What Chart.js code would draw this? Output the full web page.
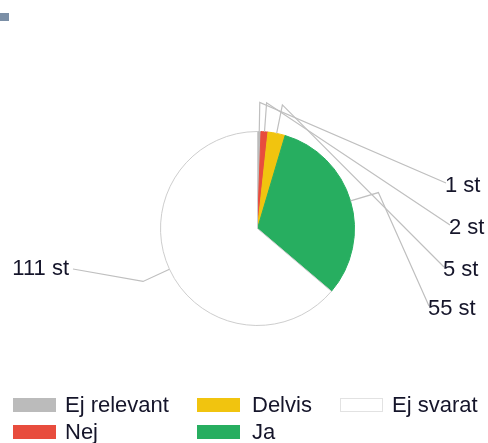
<!DOCTYPE html>
<html>
<head>
<meta charset="utf-8">
<script src="https://cdn.jsdelivr.net/npm/chart.js@4/dist/chart.umd.min.js"></script>
<style>
  body { margin: 0; background: #fff; }
  #wrap { position: relative; width: 488px; height: 443px; overflow: hidden; font-family: "Liberation Sans", Arial, sans-serif; }
  #mark { position: absolute; left: 0; top: 13px; width: 9px; height: 8px; background: #7b8fa6; }
  canvas { position: absolute; left: 0; top: 0; }
  .item { position: absolute; height: 16px; font-size: 22px; color: #15152a; white-space: nowrap; }
  .box { position: absolute; left: 0; top: 0; width: 43px; height: 14px; box-sizing: border-box; }
  .txt { position: absolute; top: -5px; line-height: 24px; }
</style>
</head>
<body>
<div id="wrap">
  <div id="mark"></div>
  <canvas id="pie" width="488" height="443"></canvas>
  <div id="legend"></div>
</div>
<script>
"use strict";

// data from the picture
const labels = ['Ej relevant', 'Nej', 'Delvis', 'Ja', 'Ej svarat'];
const counts = [1, 2, 5, 55, 111];
const colors = ['#bbbbbb', '#e84c3d', '#f1c40f', '#27ae60', '#ffffff'];
const borders = ['#bbbbbb', '#e84c3d', '#f1c40f', '#27ae60', '#cdcdcd'];

// where the value labels sit (left edge, or right edge for the left one)
const labelSpots = [
  { x: 445, y: 186, side: 'right' },
  { x: 449, y: 228, side: 'right' },
  { x: 443, y: 270, side: 'right' },
  { x: 428, y: 309, side: 'right' },
  { x: 69, y: 269, side: 'left' }
];

// leader lines + "n st" labels
const leaderPlugin = {
  id: 'leaders',
  afterDatasetsDraw(chart) {
    const ctx = chart.ctx;
    const arcs = chart.getDatasetMeta(0).data;
    ctx.save();
    ctx.strokeStyle = '#bfbfbf';
    ctx.lineWidth = 1.2;
    ctx.font = '22px "Liberation Sans", Arial, sans-serif';
    ctx.fillStyle = '#15152a';
    ctx.textBaseline = 'middle';
    arcs.forEach((arc, i) => {
      const p = arc.getProps(['x', 'y', 'startAngle', 'endAngle', 'outerRadius'], true);
      const mid = (p.startAngle + p.endAngle) / 2;
      const x0 = p.x + Math.cos(mid) * p.outerRadius;
      const y0 = p.y + Math.sin(mid) * p.outerRadius;
      const x1 = p.x + Math.cos(mid) * p.outerRadius * 1.3;
      const y1 = p.y + Math.sin(mid) * p.outerRadius * 1.3;
      const spot = labelSpots[i];
      let x2, y2;
      if (spot.side === 'right') {
        x2 = spot.x + 1; y2 = spot.y - 3;
      } else {
        x2 = spot.x + 4; y2 = spot.y;
      }
      ctx.beginPath();
      ctx.moveTo(x0, y0);
      ctx.lineTo(x1, y1);
      ctx.lineTo(x2, y2);
      ctx.stroke();
      ctx.textAlign = spot.side === 'right' ? 'left' : 'right';
      ctx.fillText(counts[i] + ' st', spot.x, spot.y);
    });
    ctx.restore();
  }
};

new Chart(document.getElementById('pie').getContext('2d'), {
  type: 'pie',
  data: {
    labels: labels,
    datasets: [{
      data: counts,
      backgroundColor: colors,
      borderColor: borders,
      borderWidth: 1,
      hoverOffset: 0
    }]
  },
  options: {
    responsive: false,
    animation: false,
    layout: { padding: { left: 160, top: 131, right: 133, bottom: 117 } },
    plugins: {
      legend: { display: false },
      tooltip: { enabled: false }
    }
  },
  plugins: [leaderPlugin]
});

// legend, two rows per column
const colX = [13, 197, 340];
const textGap = [52, 55, 52];
const rowY = [398, 425];
const legend = document.getElementById('legend');
labels.forEach((name, i) => {
  const col = Math.floor(i / 2);
  const row = i % 2;
  const item = document.createElement('div');
  item.className = 'item';
  item.style.left = colX[col] + 'px';
  item.style.top = rowY[row] + 'px';
  const box = document.createElement('div');
  box.className = 'box';
  box.style.background = colors[i];
  if (colors[i] === '#ffffff') box.style.border = '1px solid #e2e2e2';
  const txt = document.createElement('div');
  txt.className = 'txt';
  txt.style.left = textGap[col] + 'px';
  txt.textContent = name;
  item.appendChild(box);
  item.appendChild(txt);
  legend.appendChild(item);
});
</script>
</body>
</html>
